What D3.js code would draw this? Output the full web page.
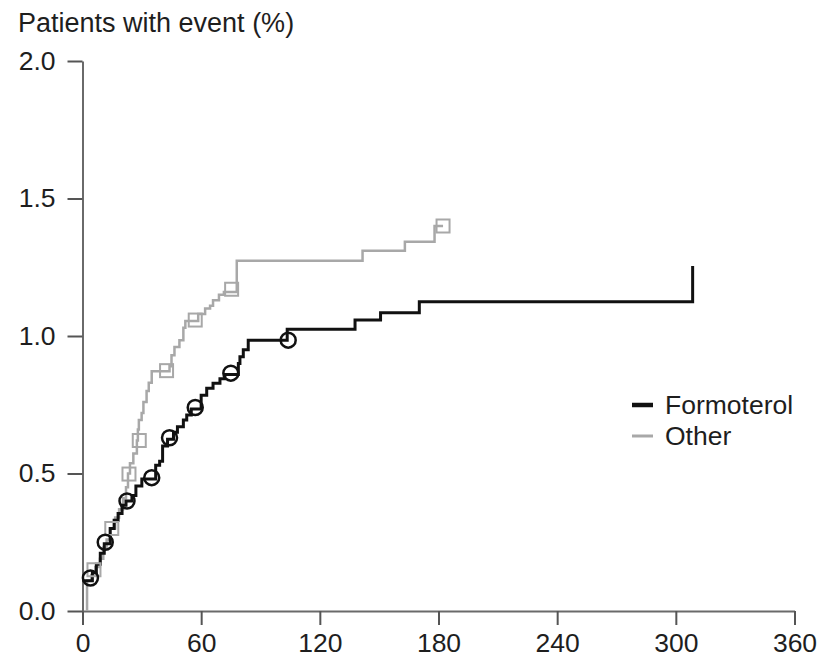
<!DOCTYPE html>
<html>
<head>
<meta charset="utf-8">
<script src="https://cdn.jsdelivr.net/npm/d3@7"></script>
<style>
  body { margin: 0; background: #fff; }
  text { font-family: "Liberation Sans", Arial, sans-serif; fill: #1e1e1e; }
</style>
</head>
<body>
<div id="chart"></div>
<script>
// Step curve data (day of jump, cumulative % after jump)
const formoterolDays = [0, 5, 7, 9, 11, 14, 16, 18, 20, 22, 25, 27, 30, 37, 39, 40.5, 43, 46, 48, 51, 52.7, 55, 60, 62.8, 66, 69.5, 72, 78.8, 79.6, 81.3, 83.8, 103.5, 137.8, 150.7, 170.3, 308.5, 308.5];
const formoterolPct  = [0.11, 0.14, 0.17, 0.21, 0.245, 0.30, 0.33, 0.355, 0.385, 0.40, 0.42, 0.455, 0.48, 0.53, 0.545, 0.60, 0.625, 0.65, 0.67, 0.695, 0.713, 0.735, 0.785, 0.81, 0.828, 0.845, 0.86, 0.90, 0.925, 0.95, 0.985, 1.025, 1.058, 1.085, 1.125, 1.125, 1.255];

const otherDays = [2.3, 2.3, 4.5, 6.5, 8.8, 10.5, 12.2, 14, 16.5, 18.5, 20.5, 22, 23, 24, 25.7, 27.5, 28, 28.5, 29.9, 30.8, 32.4, 33.5, 35, 44, 45, 46.5, 49, 51, 52, 58.5, 62, 64.5, 66, 69, 71.5, 78, 141.6, 163, 178, 182.3];
const otherPct  = [0, 0.11, 0.13, 0.16, 0.19, 0.23, 0.26, 0.30, 0.34, 0.37, 0.41, 0.45, 0.50, 0.537, 0.573, 0.62, 0.66, 0.695, 0.72, 0.76, 0.80, 0.83, 0.872, 0.89, 0.93, 0.96, 0.985, 1.03, 1.055, 1.08, 1.10, 1.11, 1.13, 1.15, 1.16, 1.274, 1.31, 1.343, 1.40, 1.40];

// Censoring marks
const formoterolMarkDays = [4, 11.5, 22.5, 35, 44, 57, 75, 104];
const formoterolMarkPct  = [0.12, 0.25, 0.40, 0.485, 0.63, 0.74, 0.865, 0.985];
const otherMarkDays = [5.8, 14.8, 23.5, 28.7, 42.5, 57, 75.4, 182.3];
const otherMarkPct  = [0.15, 0.30, 0.498, 0.62, 0.874, 1.058, 1.17, 1.40];

const xTicks = [0, 60, 120, 180, 240, 300, 360];
const yTicks = [0, 0.5, 1.0, 1.5, 2.0];
const seriesNames = ["Formoterol", "Other"];

const width = 831, height = 659;
const black = "#111", grey = "#a8a8a8";

const svg = d3.select("#chart").append("svg")
    .attr("width", width)
    .attr("height", height);

const x = d3.scaleLinear().domain([0, 360]).range([82.5, 794.5]);
const y = d3.scaleLinear().domain([0, 2]).range([611, 61]);

// Axes
const xAxis = svg.append("g")
    .attr("transform", `translate(0,${y(0)})`)
    .call(d3.axisBottom(x).tickValues(xTicks).tickFormat(d3.format("d"))
        .tickSize(14).tickSizeOuter(0).tickPadding(8));

const yAxis = svg.append("g")
    .attr("transform", `translate(${x(0)},0)`)
    .call(d3.axisLeft(y).tickValues(yTicks).tickFormat(d3.format(".1f"))
        .tickSize(15).tickSizeOuter(0).tickPadding(12));

[xAxis, yAxis].forEach(g => {
    g.select(".domain").attr("stroke", "#6a6a6a").attr("stroke-width", 2);
    g.selectAll(".tick line").attr("stroke", "#555").attr("stroke-width", 2);
    g.selectAll(".tick text").attr("font-size", 26.5).attr("fill", "#1e1e1e")
        .style("font-family", "'Liberation Sans', Arial, sans-serif");
});

svg.append("text")
    .attr("x", 18).attr("y", 32)
    .attr("font-size", 27)
    .text("Patients with event (%)");

// Curves
const line = d3.line()
    .x(d => x(d[0]))
    .y(d => y(d[1]))
    .curve(d3.curveStepAfter);

svg.append("path")
    .datum(d3.zip(otherDays, otherPct))
    .attr("fill", "none")
    .attr("stroke", grey)
    .attr("stroke-width", 2.5)
    .attr("d", line);

svg.append("path")
    .datum(d3.zip(formoterolDays, formoterolPct))
    .attr("fill", "none")
    .attr("stroke", black)
    .attr("stroke-width", 3)
    .attr("d", line);

// Marks
svg.append("g").selectAll("rect")
    .data(d3.zip(otherMarkDays, otherMarkPct))
    .join("rect")
    .attr("x", d => x(d[0]) - 6.5)
    .attr("y", d => y(d[1]) - 6.5)
    .attr("width", 13)
    .attr("height", 13)
    .attr("fill", "none")
    .attr("stroke", grey)
    .attr("stroke-width", 2);

svg.append("g").selectAll("circle")
    .data(d3.zip(formoterolMarkDays, formoterolMarkPct))
    .join("circle")
    .attr("cx", d => x(d[0]))
    .attr("cy", d => y(d[1]))
    .attr("r", 7.5)
    .attr("fill", "none")
    .attr("stroke", black)
    .attr("stroke-width", 2.5);

// Legend
const legend = svg.append("g").selectAll("g")
    .data(seriesNames)
    .join("g")
    .attr("transform", (d, i) => `translate(632,${405 + i * 31})`);

legend.append("line")
    .attr("x1", 0).attr("x2", 21)
    .attr("stroke", (d, i) => i === 0 ? black : grey)
    .attr("stroke-width", (d, i) => i === 0 ? 4.5 : 3);

legend.append("text")
    .attr("x", 33).attr("y", 9)
    .attr("font-size", 26.5)
    .text(d => d);
</script>
</body>
</html>
